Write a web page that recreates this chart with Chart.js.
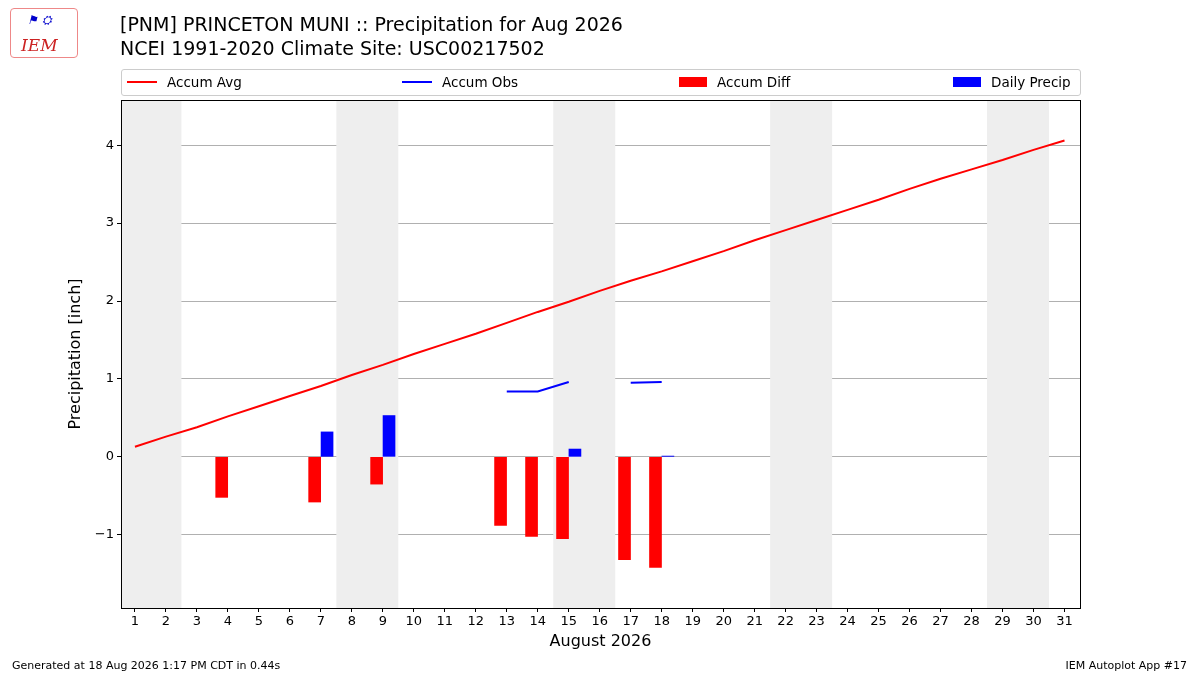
<!DOCTYPE html>
<html><head><meta charset="utf-8">
<script src="https://cdn.jsdelivr.net/npm/chart.js@4"></script>
<style>
body{margin:0;width:1200px;height:675px;position:relative;font-family:"DejaVu Sans",sans-serif;background:#fff;overflow:hidden}
#c{position:absolute;left:0;top:0}
.t{position:absolute;left:120px;font-size:19px;color:#000;line-height:24px}
#legend{position:absolute;left:121px;top:69px;width:958px;height:25px;border:1px solid #ccc;border-radius:3px;font-size:13.5px}
.li{position:absolute;top:4px;display:flex;align-items:center}
.sw{display:inline-block;margin-right:10px}
.f{position:absolute;top:659px;font-size:11px}
</style></head><body>
<canvas id="c" width="1200" height="675"></canvas>
<div class="t" style="top:12px">[PNM] PRINCETON MUNI :: Precipitation for Aug 2026</div>
<div class="t" style="top:36px">NCEI 1991-2020 Climate Site: USC00217502</div>
<div style="position:absolute;left:10px;top:8px;width:66px;height:48px;border:1px solid #e88;border-radius:4px;color:#c22;font-style:italic;font-family:'DejaVu Serif',serif;font-size:17px"><span style="position:absolute;left:10px;top:26px">IEM</span><span style="position:absolute;left:16px;top:4px;color:#00c;font-size:12px">⚑ ⛭</span></div>
<div id="legend">
<div class="li" style="left:5px"><span class="sw" style="width:30px;height:2px;background:red"></span>Accum Avg</div>
<div class="li" style="left:280px"><span class="sw" style="width:30px;height:2px;background:blue"></span>Accum Obs</div>
<div class="li" style="left:557px"><span class="sw" style="width:28px;height:10px;background:red"></span>Accum Diff</div>
<div class="li" style="left:831px"><span class="sw" style="width:28px;height:10px;background:blue"></span>Daily Precip</div>
</div>
<div class="f" style="left:12px">Generated at 18 Aug 2026 1:17 PM CDT in 0.44s</div>
<div class="f" style="right:13px">IEM Autoplot App #17</div>
<script>
const days = Array.from({length:31},(_,i)=>i+1);
const accumAvg = [0.13,0.26,0.38,0.52,0.65,0.78,0.91,1.05,1.18,1.32,1.45,1.58,1.72,1.86,1.99,2.13,2.26,2.38,2.51,2.64,2.78,2.91,3.04,3.17,3.30,3.44,3.57,3.69,3.81,3.94,4.06];
const obsDays = [13,14,15,16,17,18];
const accumObs = [0.84,0.84,0.96,null,0.95,0.96];
const diffDays = [4,7,9,13,14,15,17,18];
const accumDiff = [-0.52,-0.58,-0.35,-0.88,-1.02,-1.05,-1.32,-1.42];
const precipDays = [7,9,15,18];
const dailyPrecip = [0.32,0.53,0.10,0.01];
const weekends = [[0.5,2.5],[7.5,9.5],[14.5,16.5],[21.5,23.5],[28.5,30.5]];
const yTicks = [-1,0,1,2,3,4];

const shade = {id:'shade',beforeDatasetsDraw(ch){const {ctx,chartArea:a,scales:{x}}=ch;ctx.save();ctx.fillStyle='#eeeeee';
 weekends.forEach(([s,e])=>{const l=Math.max(x.getPixelForValue(s),a.left),r=Math.min(x.getPixelForValue(e),a.right);ctx.fillRect(l,a.top,r-l,a.bottom-a.top);});
 ctx.restore();}};
const frame = {id:'frame',afterDraw(ch){const {ctx,chartArea:a}=ch;ctx.save();ctx.strokeStyle='#000';ctx.lineWidth=1;ctx.strokeRect(a.left+0.5,a.top+0.5,a.right-a.left,a.bottom-a.top);ctx.restore();}};

new Chart(document.getElementById('c'),{
 data:{datasets:[
  {type:'bar',grouped:false,data:diffDays.map((d,i)=>({x:d-0.2,y:accumDiff[i]})),backgroundColor:'red',barThickness:12,order:3},
  {type:'bar',grouped:false,data:precipDays.map((d,i)=>({x:d+0.2,y:dailyPrecip[i]})),backgroundColor:'blue',barThickness:12,order:3},
  {type:'line',data:days.map((d,i)=>({x:d,y:accumAvg[i]})),borderColor:'red',borderWidth:2,pointRadius:0,order:1},
  {type:'line',data:obsDays.map((d,i)=>({x:d,y:accumObs[i]})),borderColor:'blue',borderWidth:2,pointRadius:0,spanGaps:false,order:1}
 ]},
 options:{responsive:false,animation:false,
  layout:{padding:{top:100,right:120,bottom:20,left:62}},
  plugins:{legend:{display:false},tooltip:{enabled:false}},
  scales:{
   x:{type:'linear',offset:false,min:0.55,max:31.5,grid:{offset:false,color:'rgba(0,0,0,0)',tickColor:'#000',tickLength:4},border:{display:false},
    afterBuildTicks(s){s.ticks=days.map(v=>({value:v}));},
    ticks:{color:'#000',font:{family:'DejaVu Sans',size:13},autoSkip:false,maxRotation:0,padding:2},
    title:{display:true,text:'August 2026',color:'#000',font:{family:'DejaVu Sans',size:16},padding:{top:4}},
    afterFit(s){s.height=47;}},
   y:{min:-1.94,max:4.58,grid:{color:'#b0b0b0',drawTicks:true,tickColor:'#000',tickLength:4},border:{display:false},
    afterBuildTicks(s){s.ticks=yTicks.map(v=>({value:v}));},
    ticks:{color:'#000',font:{family:'DejaVu Sans',size:13},callback:v=>v<0?'\u2212'+Math.abs(v):v},
    title:{display:true,text:'Precipitation [inch]',color:'#000',font:{family:'DejaVu Sans',size:16}},
    afterFit(s){s.width=59;}}
  }},
 plugins:[shade,frame]
});
</script></body></html>
